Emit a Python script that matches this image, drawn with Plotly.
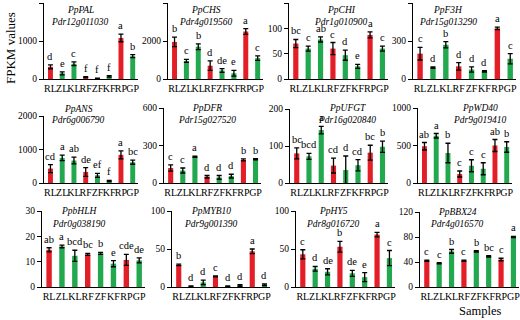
import plotly.graph_objects as go

W, H = 520, 320
categories = ["RL", "ZL", "KL", "RF", "ZF", "KF", "RP", "GP"]
bar_colors = ["#E41E26", "#22A84E", "#22A84E", "#E41E26", "#22A84E", "#22A84E", "#E41E26", "#22A84E"]

gene_names = ["PpPAL", "PpCHS", "PpCHI", "PpF3H", "PpANS", "PpDFR", "PpUFGT", "PpWD40",
              "PpbHLH", "PpMYB10", "PpHY5", "PpBBX24"]
gene_ids = ["Pdr12g011030", "Pdr4g019560", "Pdr1g010900", "Pdr15g013290", "Pdr6g006790",
            "Pdr15g027520", "Pdr16g020840", "Pdr9g019410", "Pdr0g038190", "Pdr9g001390",
            "Pdr8g016720", "Pdr4g016570"]

pal_vals = [320, 150, 400, 50, 20, 70, 1080, 600]
pal_err = [50, 40, 50, 10, 5, 20, 100, 40]
pal_let = ["d", "e", "c", "f", "f", "f", "a", "b"]

chs_vals = [1950, 950, 1700, 700, 450, 300, 2500, 1100]
chs_err = [250, 80, 150, 250, 100, 150, 150, 120]
chs_let = ["b", "c", "b", "d", "de", "e", "a", "c"]

chi_vals = [70, 60, 78, 60, 47, 25, 87, 60]
chi_err = [8, 5, 5, 12, 10, 4, 6, 5]
chi_let = ["bc", "c", "ab", "c", "d", "e", "a", "c"]

f3h_vals = [200, 90, 270, 100, 75, 60, 400, 160]
f3h_err = [50, 5, 25, 30, 20, 5, 10, 40]
f3h_let = ["c", "d", "b", "d", "d", "d", "a", "c"]

ans_vals = [430, 750, 670, 330, 230, 60, 840, 620]
ans_err = [120, 80, 100, 130, 60, 15, 120, 60]
ans_let = ["cd", "a", "ab", "de", "ef", "f", "a", "bc"]

dfr_vals = [120, 100, 210, 50, 45, 55, 185, 190]
dfr_err = [25, 20, 5, 10, 15, 15, 8, 5]
dfr_let = ["c", "c", "a", "d", "d", "d", "b", "b"]

ufgt_vals = [80, 72, 143, 47, 35, 48, 82, 98]
ufgt_err = [15, 8, 10, 20, 38, 15, 20, 15]
ufgt_let = ["bc", "bcd", "a", "cd", "d", "cd", "bc", "b"]

wd40_vals = [490, 630, 400, 120, 230, 190, 500, 480]
wd40_err = [50, 30, 130, 40, 80, 80, 80, 70]
wd40_let = ["ab", "a", "b", "c", "c", "c", "ab", "b"]

bhlh_vals = [14.7, 16, 12.3, 12.9, 13.3, 9.2, 10.7, 10.5]
bhlh_err = [0.8, 0.5, 2.2, 0.4, 0.4, 1.2, 2.2, 1.0]
bhlh_let = ["ab", "a", "bcd", "bc", "b", "e", "cde", "de"]

myb_vals = [29, 1, 6, 14, 1, 2, 47, 3]
myb_err = [1, 0.3, 3, 0.5, 0.3, 1, 3, 1]
myb_let = ["b", "d", "d", "c", "d", "d", "a", "d"]

hy5_vals = [43, 24, 20, 53, 18, 13, 69, 38]
hy5_err = [6, 3, 4, 7, 4, 6, 3, 10]
hy5_let = ["c", "d", "de", "b", "de", "e", "a", "c"]

bbx_vals = [42, 38, 57, 42, 57, 49, 44, 80]
bbx_err = [1, 1, 3, 1, 1, 1, 2, 1]
bbx_let = ["c", "c", "b", "c", "b", "bc", "c", "a"]

y_max = [2000, 4000, 150, 600, 2000, 600, 200, 1000, 30, 100, 100, 120]
y_dtick = [1000, 2000, 50, 300, 1000, 300, 100, 500, 10, 50, 50, 40]

all_vals = [pal_vals, chs_vals, chi_vals, f3h_vals, ans_vals, dfr_vals, ufgt_vals, wd40_vals,
            bhlh_vals, myb_vals, hy5_vals, bbx_vals]
all_err = [pal_err, chs_err, chi_err, f3h_err, ans_err, dfr_err, ufgt_err, wd40_err,
           bhlh_err, myb_err, hy5_err, bbx_err]
all_let = [pal_let, chs_let, chi_let, f3h_let, ans_let, dfr_let, ufgt_let, wd40_let,
           bhlh_let, myb_let, hy5_let, bbx_let]

# layout geometry in pixels: (x_left, x_right, y_top(at max), y_zero)
geom = [
    (44, 138, 3, 79), (168, 263, 3, 79), (289, 388, 3, 79), (413, 516, 3, 79),
    (44, 138, 116, 183), (164, 261, 108, 183), (290, 388, 109, 183), (418, 512, 108, 183),
    (42, 145, 211, 287), (172, 270, 211, 287), (296, 395, 211, 287), (420, 519, 212, 287),
]
title_pos = [
    (80, 10, 22), (206, 10, 22), (341, 10, 22), (448, 10, 22),
    (78, 109, 120), (207, 108, 120), (347, 108, 120), (480, 108, 120),
    (79, 211, 224), (211, 211, 224), (333, 211, 224), (457, 212, 224),
]

FONT = "Liberation Serif, Times New Roman, serif"
fig = go.Figure()
annotations = []
layout = {}
for i in range(12):
    k = i + 1
    sx = "" if k == 1 else str(k)
    xl, xr, yt, yz = geom[i]
    fig.add_trace(go.Bar(
        x=categories, y=all_vals[i], marker=dict(color=bar_colors, line=dict(width=0)),
        width=0.42,
        error_y=dict(type="data", array=all_err[i], color="black", thickness=1.3, width=2.5),
        xaxis="x" + sx, yaxis="y" + sx, showlegend=False,
    ))
    layout["xaxis" + sx] = dict(
        domain=[xl / W, xr / W], anchor="y" + sx, range=[-0.55, 7.45], automargin=False,
        tickmode="array", tickvals=categories, ticktext=categories,
        showline=True, linecolor="black", linewidth=1.2, ticks="", showgrid=False,
        tickfont=dict(family=FONT, size=10, color="black"), fixedrange=True, tickangle=0,
    )
    layout["yaxis" + sx] = dict(
        domain=[1 - yz / H, 1 - yt / H], anchor="x" + sx, range=[0, y_max[i]], automargin=False,
        dtick=y_dtick[i], tick0=0, showline=True, linecolor="black", linewidth=1.2,
        ticks="outside", ticklen=4, tickcolor="black", showgrid=False, zeroline=False,
        tickfont=dict(family=FONT, size=9.5, color="black"),
    )
    for j, c in enumerate(categories):
        annotations.append(dict(
            x=c, y=all_vals[i][j] + all_err[i][j], xref="x" + sx, yref="y" + sx,
            text=all_let[i][j], showarrow=False, yanchor="bottom", yshift=1,
            font=dict(family=FONT, size=10.5, color="black"),
        ))
    tx, ty1, ty2 = title_pos[i]
    annotations.append(dict(x=tx / W, y=1 - ty1 / H, xref="paper", yref="paper",
                            text="<i>" + gene_names[i] + "</i>", showarrow=False,
                            xanchor="center", yanchor="middle",
                            font=dict(family=FONT, size=9.5, color="black")))
    annotations.append(dict(x=tx / W, y=1 - ty2 / H, xref="paper", yref="paper",
                            text="<i>" + gene_ids[i] + "</i>", showarrow=False,
                            xanchor="center", yanchor="middle",
                            font=dict(family=FONT, size=9.5, color="black")))

annotations.append(dict(x=10 / W, y=1 - 48 / H, xref="paper", yref="paper", text="FPKM values",
                        textangle=-90, showarrow=False, xanchor="center", yanchor="middle",
                        font=dict(family=FONT, size=13, color="black")))
annotations.append(dict(x=480 / W, y=1 - 311 / H, xref="paper", yref="paper", text="Samples",
                        showarrow=False, xanchor="center", yanchor="middle",
                        font=dict(family=FONT, size=12.5, color="black")))

fig.update_layout(
    width=W, height=H, margin=dict(l=0, r=0, t=0, b=0, autoexpand=False),
    paper_bgcolor="white", plot_bgcolor="white", bargap=0.5,
    annotations=annotations, **layout,
)
fig.write_html("out.html", config={"displayModeBar": False},
               post_script="document.body.style.margin='0';")
